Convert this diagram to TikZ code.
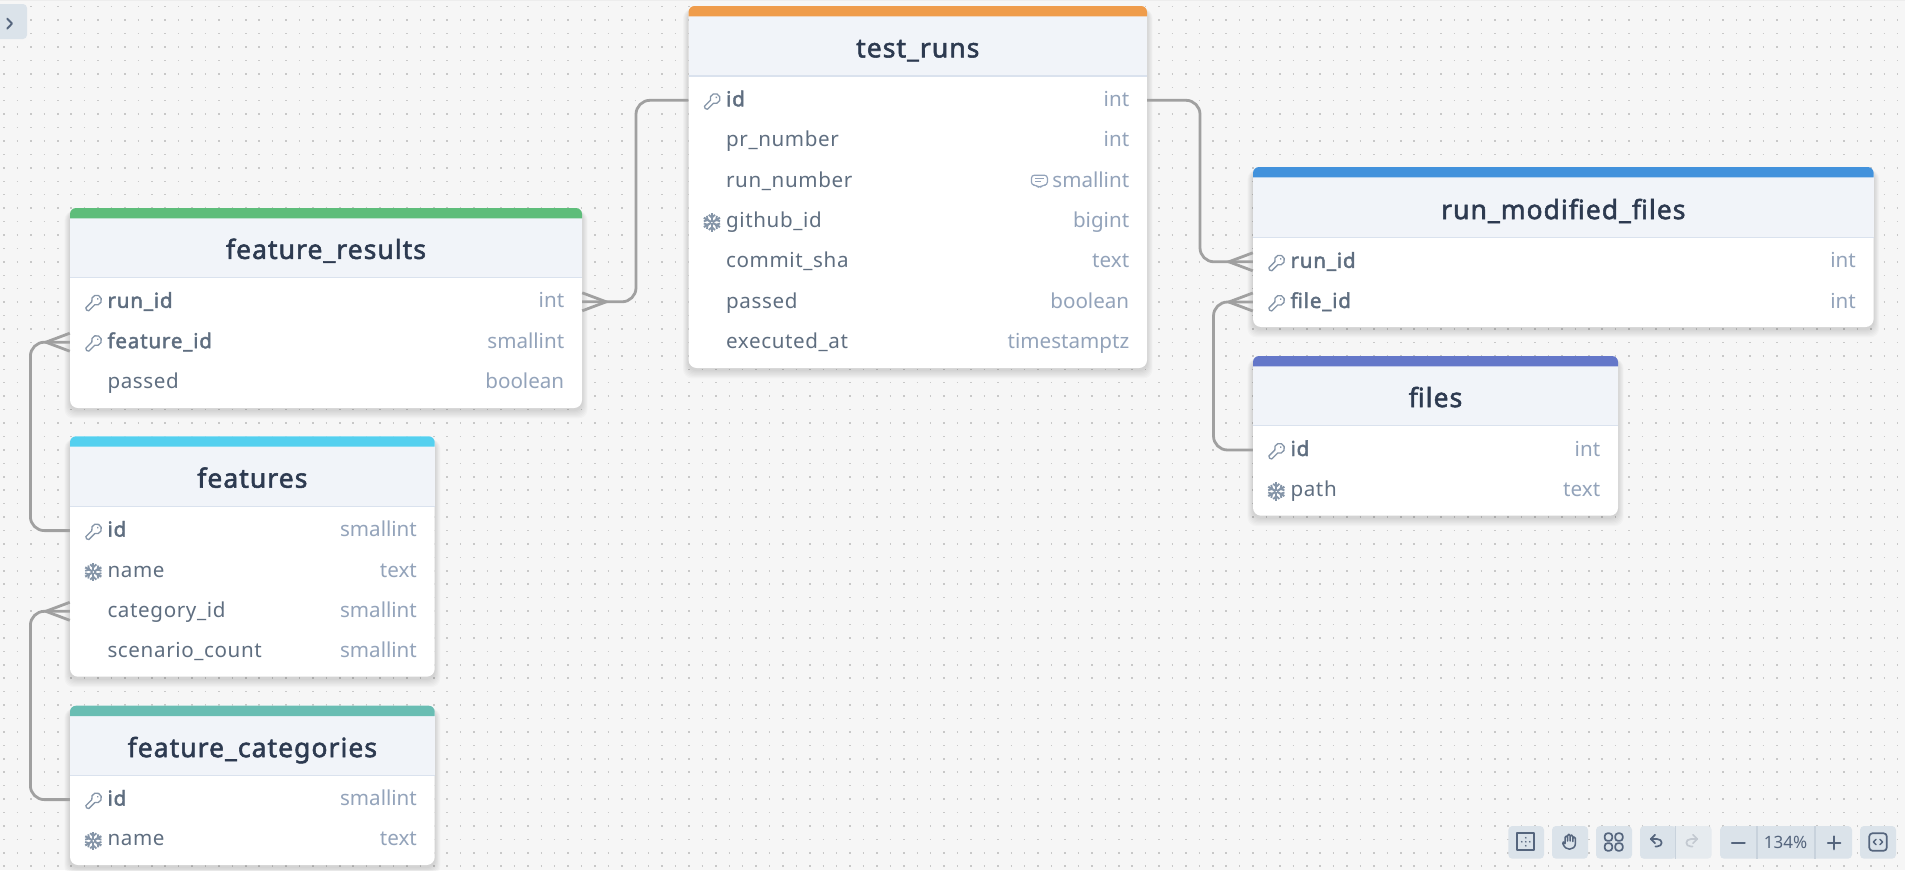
\documentclass[tikz,border=0pt]{standalone}
\usepackage{fontspec}
\setmainfont{Noto Sans}[BoldFont={Noto Sans},BoldFeatures={FakeBold=2,LetterSpace=3.9}]
\newfontfamily\namefont{Noto Sans}[LetterSpace=3,BoldFont={Noto Sans},BoldFeatures={FakeBold=2,LetterSpace=3.9}]
\usetikzlibrary{calc}
\definecolor{bgc}{HTML}{F6F6F6}
\definecolor{dotc}{HTML}{C8C8C8}
\definecolor{headc}{HTML}{F1F4F9}
\definecolor{rulec}{HTML}{DAE2EE}
\definecolor{titlec}{HTML}{2D3A50}
\definecolor{namec}{HTML}{5F6E80}
\definecolor{typec}{HTML}{93A3BA}
\definecolor{iconc}{HTML}{8595A8}
\definecolor{connc}{HTML}{A0A0A0}
\definecolor{btnc}{HTML}{DBE3EA}
\definecolor{btnl}{HTML}{E6EBEF}
\definecolor{toolc}{HTML}{55657D}
\definecolor{divc}{HTML}{C8D2DC}
\definecolor{cgreen}{HTML}{5EBD7A}
\definecolor{corange}{HTML}{EF9C4B}
\definecolor{cblue}{HTML}{4292DC}
\definecolor{cindigo}{HTML}{6477C9}
\definecolor{ccyan}{HTML}{54D0EF}
\definecolor{cteal}{HTML}{69BDB3}
\tikzset{
  dotline/.style={dotc,line width=1.5pt,dash pattern=on 1.5pt off 11.93pt},
  rowbox/.style={inner sep=0pt,minimum height=30pt},
  titletext/.style={anchor=base,inner sep=0pt,text=titlec,font=\fontsize{26.5}{30}\selectfont\bfseries},
  nametext/.style={anchor=base west,inner sep=0pt,text=namec,font=\fontsize{20.6}{24}\selectfont\namefont},
  typetext/.style={anchor=base east,inner sep=0pt,text=typec,font=\fontsize{20.6}{24}\selectfont},
  conn/.style={draw=connc,line width=2.8pt,rounded corners=14pt},
  prong/.style={draw=connc,line width=2.8pt},
  toolicon/.style={draw=toolc,line width=1.7pt,line cap=round,line join=round},
  keyicon/.pic={
    \begin{scope}[x=1pt,y=1pt,shift={(3.2,3.2)},rotate=45,scale=1.08]
      \draw[iconc,line width=1.3pt,line join=round] (155:4.6) arc[start angle=155,end angle=-155,radius=4.6] -- (-12,-1.94) -- (-13,0) -- (-12,1.94) -- cycle;
      \fill[iconc] (1.6,0) circle (0.9);
    \end{scope}
  },
  flakeicon/.pic={
    \begin{scope}[x=1pt,y=1pt]
      \foreach \a in {30,90,150,210,270,330}{
        \draw[iconc,line width=2.1pt,rotate=\a] (0.8,0) -- (9.3,0);
        \draw[iconc,line width=1.8pt,rotate=\a] (7.6,3.1) -- (4.8,0) -- (7.6,-3.1);
      }
    \end{scope}
  },
  noteicon/.pic={
    \begin{scope}[x=1pt,y=1pt,line width=1.2pt,typec,line join=round]
      \draw[rounded corners=3pt] (-8,5.5) -- (8,5.5) -- (8,-4.4) -- (3,-4.4) -- (0,-7.5) -- (-3,-4.4) -- (-8,-4.4) -- cycle;
      \draw (-4.4,2) -- (4.4,2);
      \draw (-4.4,-1) -- (1.4,-1);
    \end{scope}
  }
}
% id, x1, x2, top, header bottom, bottom, colour, title
\newcommand{\dbtable}[8]{%
  \foreach \s in {1,...,7}{
    \fill[black,opacity=0.018,rounded corners=9pt] (#2-\s*0.8,#4+3) rectangle (#3+\s*0.8,#6+2+\s*1.2);
  }
  \fill[white,rounded corners=8pt] (#2,#4) rectangle (#3,#6);
  \fill[headc] (#2,#4+9) rectangle (#3,#5);
  \draw[rulec,line width=1.2pt] (#2,#5) -- (#3,#5);
  \fill[#7] (#2,#4+10.3) {[rounded corners=6pt] -- (#2,#4) -- (#3,#4)} -- (#3,#4+10.3) -- cycle;
  \node[titletext] (#1) at ({(#2+#3)/2},#5-18.6) {#8};
}
% id, x1, x2, y, name, type, icon
\newcommand{\dbrow}[7]{%
  \node[rowbox,minimum width={(#3-#2)*1pt}] (#1) at ({(#2+#3)/2},#4) {};
  \node[nametext] (#1-n) at (#2+37.3,#4+6) {#5};
  \node[typetext] (#1-t) at (#3-17.6,#4+6) {#6};
  #7
}
\newcommand{\keyat}[2]{\pic at (#1+23.3,#2+1.5) {keyicon};}
\newcommand{\flakeat}[2]{\pic at (#1+23.3,#2+1) {flakeicon};}
\begin{document}
\begin{tikzpicture}[x=1pt,y=-1pt]
\useasboundingbox (0,0) rectangle (1905,870);
\fill[bgc] (0,0) rectangle (1905,870);
\fill[black!7] (0,0) rectangle (1905,1.2);
\foreach \r in {0,...,64}{
  \draw[dotline] (3.3,6.7+13.43*\r) -- (1905,6.7+13.43*\r);
}
% panel toggle
\fill[btnc] (-8,4) [rounded corners=4pt] rectangle (27,39);
\draw[toolc,line width=1.9pt,line cap=round,line join=round] (7.2,18.6) -- (12,23.6) -- (7.2,28.6);

% feature_results
\dbtable{frt}{70}{582}{208}{277.5}{408}{cgreen}{feature\_results}
\dbrow{fr1}{70}{582}{301.8}{\textbf{run\_id}}{int}{\keyat{70}{301.8}}
\dbrow{fr2}{70}{582}{342.2}{\textbf{feature\_id}}{smallint}{\keyat{70}{342.2}}
\dbrow{fr3}{70}{582}{382.5}{passed}{boolean}{}
% test_runs
\dbtable{trt}{688.6}{1147}{6}{76}{368}{corange}{test\_runs}
\dbrow{tr1}{688.6}{1147}{100.3}{\textbf{id}}{int}{\keyat{688.6}{100.3}}
\dbrow{tr2}{688.6}{1147}{140.6}{pr\_number}{int}{}
\dbrow{tr3}{688.6}{1147}{181}{run\_number}{smallint}{\pic at (1039.4,180.7) {noteicon};}
\dbrow{tr4}{688.6}{1147}{221.4}{github\_id}{bigint}{\flakeat{688.6}{221.4}}
\dbrow{tr5}{688.6}{1147}{261.7}{commit\_sha}{text}{}
\dbrow{tr6}{688.6}{1147}{302}{passed}{boolean}{}
\dbrow{tr7}{688.6}{1147}{342.4}{executed\_at}{timestamptz}{}
% run_modified_files
\dbtable{rmt}{1253}{1873.6}{167}{237.7}{327}{cblue}{run\_modified\_files}
\dbrow{rm1}{1253}{1873.6}{261.8}{\textbf{run\_id}}{int}{\keyat{1253}{261.8}}
\dbrow{rm2}{1253}{1873.6}{302}{\textbf{file\_id}}{int}{\keyat{1253}{302}}
% files
\dbtable{fit}{1253}{1618}{356}{425.7}{515.7}{cindigo}{files}
\dbrow{fi1}{1253}{1618}{450}{\textbf{id}}{int}{\keyat{1253}{450}}
\dbrow{fi2}{1253}{1618}{490.4}{path}{text}{\flakeat{1253}{490.4}}
% features
\dbtable{fet}{70}{434.7}{436.3}{506.3}{676.7}{ccyan}{features}
\dbrow{fe1}{70}{434.7}{530.6}{\textbf{id}}{smallint}{\keyat{70}{530.6}}
\dbrow{fe2}{70}{434.7}{571}{name}{text}{\flakeat{70}{571}}
\dbrow{fe3}{70}{434.7}{611.3}{category\_id}{smallint}{}
\dbrow{fe4}{70}{434.7}{651.6}{scenario\_count}{smallint}{}
% feature_categories
\dbtable{fct}{70}{434.7}{705.7}{775.7}{865}{cteal}{feature\_categories}
\dbrow{fc1}{70}{434.7}{799.6}{\textbf{id}}{smallint}{\keyat{70}{799.6}}
\dbrow{fc2}{70}{434.7}{839.8}{name}{text}{\flakeat{70}{839.8}}

% connectors
\coordinate (v1) at (636,0);
\coordinate (v2) at (1200,0);
\coordinate (v3) at (1213.5,0);
\coordinate (v4) at (30.4,0);
\draw[conn] (tr1.west) -| (v1 |- fr1.east) -- (fr1.east);
\draw[prong] ([yshift=9pt]fr1.east) -- ([xshift=24pt]fr1.east) -- ([yshift=-9pt]fr1.east);
\draw[conn] (tr1.east) -| (v2 |- rm1.west) -- (rm1.west);
\draw[prong] ([yshift=9pt]rm1.west) -- ([xshift=-24pt]rm1.west) -- ([yshift=-9pt]rm1.west);
\draw[conn] (fi1.west) -| (v3 |- rm2.west) -- (rm2.west);
\draw[prong] ([yshift=9pt]rm2.west) -- ([xshift=-24pt]rm2.west) -- ([yshift=-9pt]rm2.west);
\draw[conn] (fe1.west) -| (v4 |- fr2.west) -- (fr2.west);
\draw[prong] ([yshift=9pt]fr2.west) -- ([xshift=-24pt]fr2.west) -- ([yshift=-9pt]fr2.west);
\draw[conn] (fc1.west) -| (v4 |- fe3.west) -- (fe3.west);
\draw[prong] ([yshift=9pt]fe3.west) -- ([xshift=-24pt]fe3.west) -- ([yshift=-9pt]fe3.west);

% toolbar
\fill[btnc,rounded corners=4pt] (1508.3,826) rectangle (1544,858.7);
\fill[btnc,rounded corners=4pt] (1552,826) rectangle (1588,858.7);
\fill[btnc,rounded corners=4pt] (1596,826) rectangle (1632,858.7);
\fill[btnl,rounded corners=4pt] (1640,826) rectangle (1711.7,858.7);
\fill[btnc,rounded corners=4pt] (1640,826) rectangle (1675.5,858.7);
\fill[btnc,rounded corners=4pt] (1720,826) rectangle (1852,858.7);
\fill[btnc,rounded corners=4pt] (1860,826) rectangle (1896,858.7);
\draw[divc,line width=1.4pt] (1675.5,826) -- (1675.5,858.7);
\draw[divc,line width=1.6pt] (1756.7,826) -- (1756.7,858.7);
\draw[divc,line width=1.6pt] (1815,826) -- (1815,858.7);
% fit icon
\draw[toolicon] (1517.3,833.3) rectangle (1534.3,850.3);
\foreach \dx/\dy in {0/0,-4/0,4/0,0/-4,0/4}{\fill[toolc] (1525.8+\dx,841.8+\dy) circle (0.9);}
% hand icon
\draw[toolicon,line width=1.5pt] (1565,843.5) -- (1565,837.4) .. controls (1565,835.6) and (1567.6,835.6) .. (1567.6,837.4) -- (1567.6,841)
  (1567.6,841) -- (1567.6,835.6) .. controls (1567.6,833.8) and (1570.2,833.8) .. (1570.2,835.6) -- (1570.2,841)
  (1570.2,841) -- (1570.2,836.4) .. controls (1570.2,834.6) and (1572.8,834.6) .. (1572.8,836.4) -- (1572.8,841.5)
  (1572.8,841.5) -- (1572.8,838.4) .. controls (1572.8,836.6) and (1575.4,836.6) .. (1575.4,838.4) -- (1575.4,843.5) .. controls (1575.4,847) and (1572.5,849.2) .. (1569.5,849.2) .. controls (1566.5,849.2) and (1564.5,847.5) .. (1562.8,843.6) .. controls (1562.2,841.8) and (1564,841) .. (1565,843.5);
% grid icon
\foreach \gx/\gy in {1604.7/833.3,1615.2/833.3,1604.7/843.2,1615.2/843.2}{
  \draw[toolicon,rounded corners=2.8pt] (\gx,\gy) rectangle (\gx+7.5,\gy+7.5);
}
% undo, redo
\draw[toolicon] (1655,834.8) -- (1650.8,839) -- (1655,843.2);
\draw[toolicon] (1650.8,839) -- (1657,839) .. controls (1663.2,839) and (1663.2,846.5) .. (1657,846.5) -- (1655.5,846.5);
\draw[toolicon,draw=toolc!35] (1693,834.8) -- (1697.2,839) -- (1693,843.2);
\draw[toolicon,draw=toolc!35] (1697.2,839) -- (1691,839) .. controls (1684.8,839) and (1684.8,846.5) .. (1691,846.5) -- (1692.5,846.5);
% zoom
\draw[toolicon,line width=2.5pt] (1732,842.8) -- (1744.6,842.8);
\node[anchor=base,inner sep=0pt,text=toolc,font=\fontsize{17}{20}\selectfont] (zoomlabel) at (1785.6,848.6) {134\%};
\draw[toolicon,line width=2.5pt] (1828,842.8) -- (1840.2,842.8) (1834.1,836.5) -- (1834.1,849.1);
% code icon
\draw[toolicon,rounded corners=3pt] (1869.3,833.3) rectangle (1886.7,850.7);
\draw[toolicon,line width=1.5pt] (1876,839.4) -- (1873.4,842) -- (1876,844.6) (1880,839.4) -- (1882.6,842) -- (1880,844.6);
\end{tikzpicture}
\end{document}
